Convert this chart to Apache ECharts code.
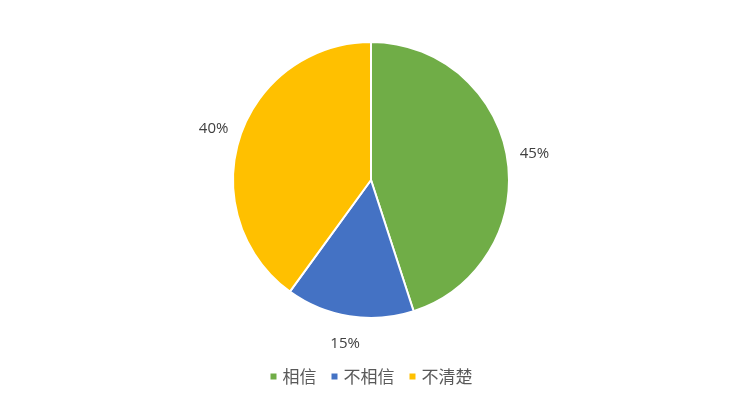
<!DOCTYPE html>
<html><head><meta charset="utf-8">
<script src="https://cdn.jsdelivr.net/npm/echarts@6/dist/echarts.min.js"></script>
<style>html,body{margin:0;padding:0;background:#fff}#c{width:741px;height:404px}</style>
</head><body><div id="c"></div>
<script>
var categories = ['相信', '不相信', '不清楚'];
var values = [45, 15, 40];
var colors = ['#70AD47', '#4472C4', '#FFC000'];
var chart = echarts.init(document.getElementById('c'));
var pieData = categories.map(function (c, i) { return { name: c, value: values[i] }; });
chart.setOption({
  animation: false,
  color: colors,
  legend: {
    top: 363, left: 'center', itemWidth: 8, itemHeight: 8, itemGap: 13,
    icon: 'rect',
    textStyle: { fontSize: 17, color: '#595959', fontFamily: 'Noto Sans CJK SC' },
    data: categories
  },
  series: [{
    type: 'pie',
    center: [371, 180],
    radius: 138,
    startAngle: 90,
    clockwise: true,
    itemStyle: { borderColor: '#fff', borderWidth: 2 },
    label: { show: false },
    labelLine: { show: false },
    emphasis: { disabled: true },
    data: pieData
  }, {
    type: 'pie',
    silent: true,
    center: [371, 180],
    radius: [155, 170],
    startAngle: 90,
    clockwise: true,
    itemStyle: { color: 'rgba(0,0,0,0)' },
    label: { show: true, position: 'inside', formatter: '{d}%', fontSize: 15, color: '#404040', fontFamily: 'Open Sans' },
    labelLine: { show: false },
    emphasis: { disabled: true },
    data: pieData
  }]
});
</script></body></html>
